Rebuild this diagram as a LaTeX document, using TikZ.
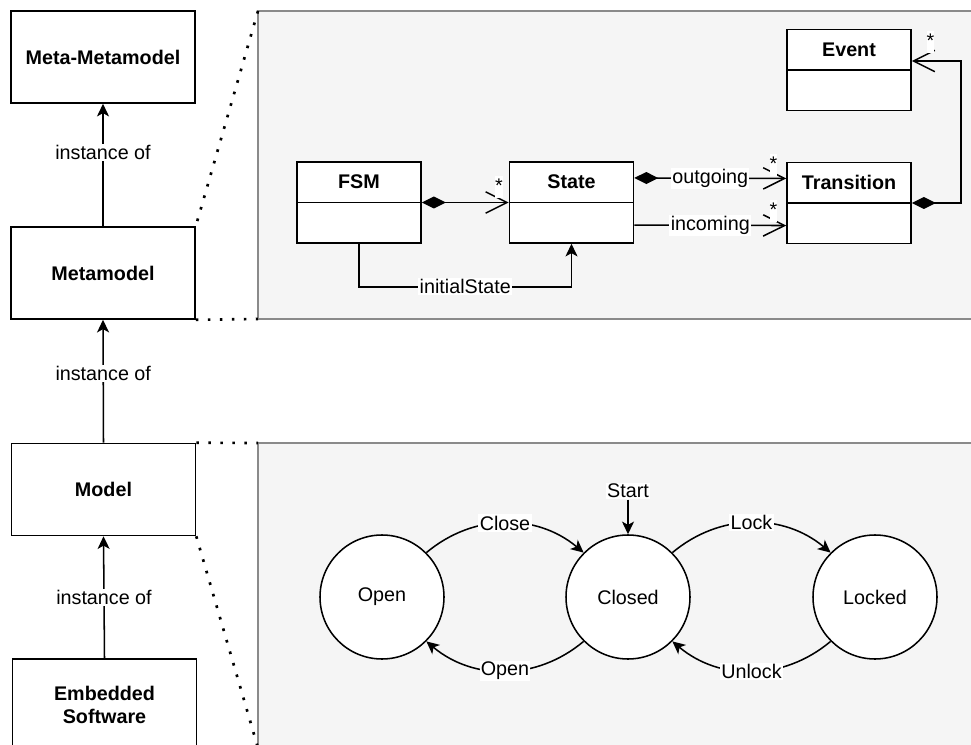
\documentclass[tikz,border=0pt]{standalone}
\usepackage{fontspec}
\setmainfont{Liberation Sans}
\usetikzlibrary{arrows.meta,calc}
\definecolor{panelfill}{HTML}{F5F5F5}
\definecolor{panelline}{HTML}{8A8A8A}

\begin{document}
\begin{tikzpicture}[x=0.75pt,y=-0.75pt,
  every node/.style={font=\fontsize{14.8}{17.5}\selectfont},
  conn/.style={line width=1.15pt},
  inst/.style={conn, -{Stealth[length=9.5pt,width=9pt,inset=2.5pt]}},
  lbl/.style={fill=white, inner sep=1pt},
  panel/.style={draw=panelline, fill=panelfill, line width=1.1pt, outer sep=0pt, inner sep=0pt},
  dotline/.style={line width=2pt, dash pattern=on 2pt off 7pt},
  level/.style={draw, line width=1.15pt, fill=white, minimum width=138pt, minimum height=69pt,
    align=center, font=\fontsize{14.8}{17.5}\selectfont\bfseries},
  umlclass/.style={draw, line width=1.15pt, fill=white, minimum width=93pt, minimum height=60.75pt, inner sep=0pt},
  classname/.style={font=\fontsize{14.8}{17.5}\selectfont\bfseries},
  compose/.style={conn, {Diamond[length=18pt,width=9pt]}-{Straight Barb[length=16pt,width=16pt]}},
  assoc/.style={conn, -{Straight Barb[length=16pt,width=16pt]}},
  mult/.style={fill=white, inner sep=0pt, text height=12pt, text depth=4pt},
  fsmstate/.style={circle, draw, line width=1.15pt, fill=white, minimum size=93pt, inner sep=0pt}
]
\useasboundingbox (0,0) rectangle (971,745);
\clip (0,0) rectangle (971,745);

% background panels
\node[panel, anchor=north west, minimum width=541.5pt, minimum height=231pt] (upper) at (258,11) {};
\node[panel, anchor=north west, minimum width=541.5pt, minimum height=228.75pt] (lower) at (258,443) {};

% modelling levels
\node[level] (mmm) at (103,57) {Meta-Metamodel};
\node[level] (mm) at (103,273) {Metamodel};
\node[level] (m) at (103.5,489.5) {Model};
\node[level] (sw) at (104.5,705) {Embedded\\Software};

\draw[inst] (mm.north) -- node[lbl, pos=0.6] {instance of} (mmm.south);
\draw[inst] (m.north) -- node[lbl, pos=0.56] {instance of} (mm.south);
\draw[inst] (sw.north) -- node[lbl, pos=0.5] {instance of} (m.south);

% zoom lines
\draw[dotline] (upper.north west) -- (mm.north east);
\draw[dotline] (mm.south east) -- (upper.south west);
\draw[dotline] (m.north east) -- (lower.north west);
\draw[dotline] (m.south east) -- (lower.south west);

% metamodel classes
\node[umlclass] (fsm) at (359,202.5) {};
\node[classname] (fsmname) at ($(fsm.north)!0.5!(fsm.center)$) {FSM};
\draw[conn] (fsm.west) -- (fsm.east);

\node[umlclass] (state) at (571.5,202.5) {};
\node[classname] (statename) at ($(state.north)!0.5!(state.center)$) {State};
\draw[conn] (state.west) -- (state.east);

\node[umlclass] (trans) at (849,203) {};
\node[classname] (transname) at ($(trans.north)!0.5!(trans.center)$) {Transition};
\draw[conn] (trans.west) -- (trans.east);

\node[umlclass] (event) at (849,70) {};
\node[classname] (eventname) at ($(event.north)!0.5!(event.center)$) {Event};
\draw[conn] (event.west) -- (event.east);

% associations
\draw[compose] (fsm.east) -- (state.west);
\node[mult] (mfsm) at (499,187) {*};

\draw[inst] (fsm.south) -- ++(0,43) -| node[lbl, pos=0.25] {initialState} (state.south);

\draw[compose] ([yshift=18.4pt]state.east) -- node[lbl] {outgoing} ([yshift=18.4pt]trans.west);
\node[mult] (mout) at (773.5,165) {*};

\draw[assoc] ([yshift=-16.9pt]state.east) -- node[lbl] {incoming} ([yshift=-16.9pt]trans.west);
\node[mult] (min) at (773.5,211) {*};

\draw[compose] (trans.east) -- ++(49,0) |- ([yshift=6.75pt]event.east);
\node[mult] (mev) at (930.5,42) {*};

% model: state machine
\node[fsmstate] (open) at (382,597) {Open};
\node[fsmstate] (closed) at (628,597) {Closed};
\node[fsmstate] (locked) at (875,597) {Locked};

\draw[inst] (open.45) to[bend left=40] node[lbl] {Close} (closed.135);
\draw[inst] (closed.225) to[bend left=40] node[lbl] {Open} (open.-45);
\draw[inst] (closed.45) to[bend left=40] node[lbl] {Lock} (locked.135);
\draw[inst] (locked.225) to[bend left=40] node[lbl] {Unlock} (closed.-45);

\node[lbl] (start) at (628,491) {Start};
\draw[inst] (start) -- (closed);
\end{tikzpicture}
\end{document}
